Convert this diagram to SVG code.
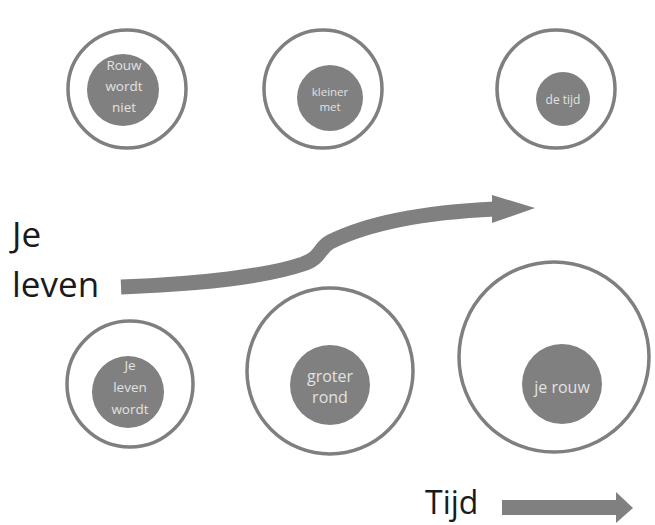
<svg xmlns="http://www.w3.org/2000/svg" width="655" height="525" viewBox="0 0 655 525">
<style>
.outer{fill:#ffffff;stroke:#7f7f7f;stroke-width:3.5}
.inner{fill:#808080;stroke:none}
.lbl{fill:#e2e2e2;font-family:"Open Sans","Liberation Sans",sans-serif;text-anchor:middle}
.big{fill:#1a1a1a;font-family:"Open Sans","Liberation Sans",sans-serif}
.arrow{fill:none;stroke:#808080;stroke-width:15}
.head{fill:#808080}
</style>
<rect width="655" height="525" fill="#ffffff"/>
<g id="top1">
<circle class="outer" cx="127" cy="89" r="59"/>
<circle class="inner" cx="123" cy="90" r="36"/>
<text class="lbl" font-size="13.5" x="124" y="70">Rouw</text>
<text class="lbl" font-size="13.5" x="124" y="91">wordt</text>
<text class="lbl" font-size="13.5" x="124" y="112">niet</text>
</g>
<g id="top2">
<circle class="outer" cx="323" cy="89" r="59"/>
<circle class="inner" cx="330" cy="98" r="33"/>
<text class="lbl" font-size="11.5" x="330" y="96">kleiner</text>
<text class="lbl" font-size="11.5" x="330" y="111">met</text>
</g>
<g id="top3">
<circle class="outer" cx="556" cy="89" r="59"/>
<circle class="inner" cx="563" cy="99" r="27"/>
<text class="lbl" font-size="12" x="563" y="104">de tijd</text>
</g>
<g id="bot1">
<circle class="outer" cx="130" cy="384" r="63"/>
<circle class="inner" cx="128" cy="392" r="36"/>
<text class="lbl" font-size="13.5" x="130" y="370">Je</text>
<text class="lbl" font-size="13.5" x="130" y="392">leven</text>
<text class="lbl" font-size="13.5" x="130" y="414">wordt</text>
</g>
<g id="bot2">
<circle class="outer" cx="330" cy="371" r="83"/>
<circle class="inner" cx="330" cy="385" r="40"/>
<text class="lbl" font-size="16" x="330" y="382">groter</text>
<text class="lbl" font-size="16" x="330" y="403">rond</text>
</g>
<g id="bot3">
<circle class="outer" cx="554" cy="357" r="95"/>
<circle class="inner" cx="562" cy="384" r="40"/>
<text class="lbl" font-size="16" x="562" y="393">je rouw</text>
</g>
<g id="labels">
<text class="big" font-size="35" x="12" y="247">Je</text>
<text class="big" font-size="35" x="12" y="297">leven</text>
<text class="big" font-size="32" x="425" y="514">Tijd</text>
</g>
<g id="connectors">
<path class="arrow" d="M121,287 C200,284 268,276 303,264 C322,257 318,249 330,242 C370,222 430,212 495,209"/>
<polygon class="head" points="492,195 535,208 492,223"/>
<rect class="head" x="502" y="500" width="116" height="15"/>
<polygon class="head" points="616,492 633,508 616,523"/>
</g>
</svg>
